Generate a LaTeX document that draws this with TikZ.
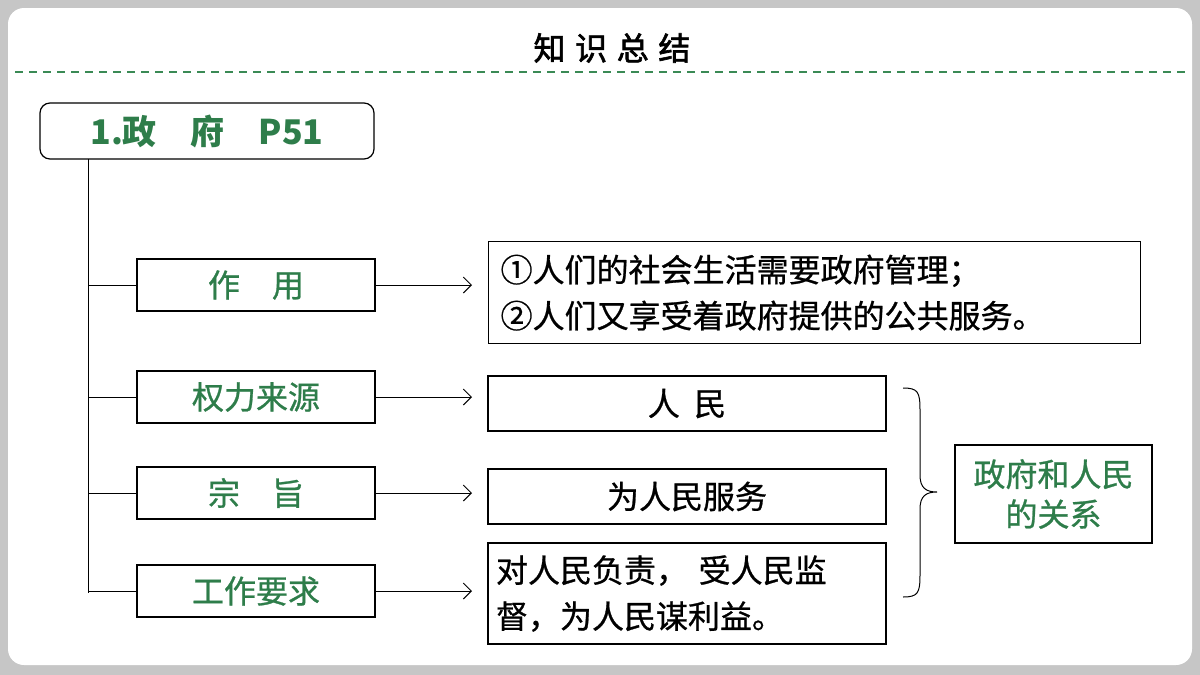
\documentclass[tikz,border=0pt]{standalone}
\usepackage{fontspec}
\setmainfont{Noto Sans CJK SC}
\newfontfamily\cjkb{Noto Sans CJK SC}[FakeBold=2]
\newfontfamily\cjkm{Noto Sans CJK SC}[FakeBold=0.8]
\usetikzlibrary{decorations.pathreplacing,arrows.meta}
\definecolor{gr}{HTML}{2E7D4A}
\definecolor{dg}{HTML}{3A8A55}
\begin{document}
\begin{tikzpicture}[x=0.5pt,y=-0.5pt,
  lbox/.style={draw,line width=0.6pt,minimum width=119pt,minimum height=26pt,text=gr,font=\cjkm\fontsize{16}{18}\selectfont,inner sep=0pt},
  rbox/.style={draw,line width=0.6pt,font=\cjkm\fontsize{16}{23}\selectfont,inner sep=0pt},
  arr/.style={-{Straight Barb[length=4pt]},line width=0.5pt},
  ln/.style={line width=0.5pt}]
\useasboundingbox (0,0) rectangle (1200,675);
\fill[gray!45] (0,0) rectangle (1200,675);
\fill[white,rounded corners=8pt] (8,8) rectangle (1192,665);
\node[font=\cjkb\fontsize{16}{18}\selectfont] (title) at (612,48) {知\hspace{0.3em}识\hspace{0.3em}总\hspace{0.3em}结};
\draw[dg,dashed,line width=1pt,dash pattern=on 4pt off 3pt] (15,72) -- (1185,72);
\node[draw,rounded corners=5pt,line width=0.6pt,minimum width=167pt,minimum height=28pt,text=gr,font=\bfseries\fontsize{17}{20}\selectfont,inner sep=0pt] (gov) at (207,131) {1.政\quad 府\quad P51};
\coordinate (top) at (88,159);
\coordinate (bot) at (88,593);
\draw[ln] (top) -- (bot);
\node[lbox] (a) at (256,285) {作\quad 用};
\node[lbox] (b) at (256,397) {权力来源};
\node[lbox] (c) at (256,493) {宗\quad 旨};
\node[lbox] (d) at (256,591) {工作要求};
\foreach \n/\y in {a/285,b/397,c/493,d/591}{
  \coordinate (l\n) at (88,\y);
  \draw[ln] (l\n) -- (\n.west);
  \coordinate (e\n) at (472,\y);
  \draw[arr] (\n.east) -- (e\n);
}
\node[rbox,minimum width=326pt,minimum height=51pt,align=left,text width=320pt,anchor=north west] (ra) at (488,241) {\hspace*{3pt}①人们的社会生活需要政府管理；\\\hspace*{3pt}②人们又享受着政府提供的公共服务。};
\node[rbox,minimum width=199pt,minimum height=27.5pt] (rb) at (687,403.5) {人\ \ 民};
\node[rbox,minimum width=199pt,minimum height=27.5pt] (rc) at (687,496.5) {为人民服务};
\node[rbox,minimum width=199pt,minimum height=50.5pt,align=left,text width=191pt] (rd) at (687,593.5) {对人民负责，\ 受人民监\\督，为人民谋利益。};
\coordinate (bt) at (903,388);
\coordinate (bb) at (903,597);
\draw[ln] (bt) .. controls (918,388) and (920,392) .. (920,410) -- (920,475) .. controls (920,488) and (926,492) .. (937,492) .. controls (926,492) and (920,496) .. (920,509) -- (920,575) .. controls (920,593) and (918,597) .. (bb);
\node[draw,line width=0.6pt,minimum width=98.5pt,minimum height=49pt,text=gr,font=\cjkm\fontsize{16}{20}\selectfont,align=center,inner sep=0pt] (rel) at (1053.5,494) {政府和人民\\的关系};
\end{tikzpicture}
\end{document}
